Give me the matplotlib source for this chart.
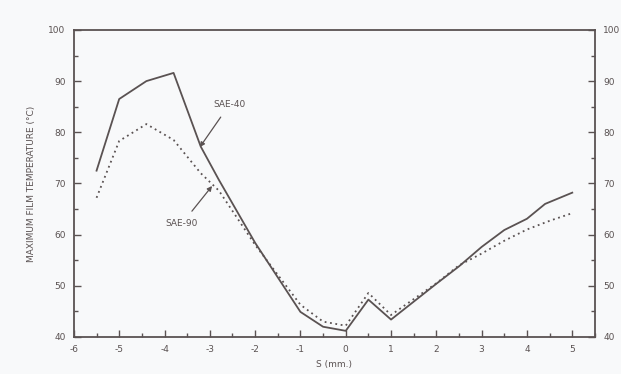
import matplotlib.pyplot as plt
from matplotlib.ticker import MultipleLocator

plt.rcParams['axes.unicode_minus'] = False

# maximum film temperature along the bearing, two oil grades
s_sae40 = [-5.5, -5.0, -4.4, -3.8, -3.2, -2.8, -2.0, -1.0, -0.5, 0.0, 0.5, 1.0, 2.0, 2.5, 3.0, 3.5, 4.0, 4.4, 5.0]
t_sae40 = [72.5, 86.5, 90.0, 91.6, 77.2, 70.7, 58.4, 44.9, 42.0, 41.2, 47.3, 43.4, 50.4, 53.8, 57.6, 60.9, 63.1, 66.0, 68.2]

s_sae90 = [-5.5, -5.0, -4.4, -3.8, -3.2, -2.8, -2.0, -1.0, -0.5, 0.0, 0.5, 1.0, 2.0, 2.5, 3.0, 3.5, 4.0, 4.5, 5.0]
t_sae90 = [67.2, 78.3, 81.6, 78.5, 72.0, 68.6, 58.0, 46.3, 43.0, 42.2, 48.6, 44.3, 50.5, 54.0, 56.3, 58.8, 61.0, 62.7, 64.2]

ink = '#5a5252'
fig = plt.figure(figsize=(6.21, 3.74), dpi=100, facecolor='#f8f9fa')
ax = fig.add_axes([0.119, 0.099, 0.839, 0.821], facecolor='#f8f9fa')

ax.plot(s_sae40, t_sae40, color=ink, lw=1.3, ls='-')
ax.plot(s_sae90, t_sae90, color=ink, lw=1.3, ls=(0, (1, 2)))

ax.annotate('SAE-40', xy=(-3.22, 77.1), xytext=(-2.56, 85.5), ha='center', va='center',
            fontsize=6.5, color=ink,
            arrowprops=dict(arrowstyle='-|>', color=ink, lw=0.9, mutation_scale=7, shrinkA=5, shrinkB=0))
ax.annotate('SAE-90', xy=(-2.95, 69.5), xytext=(-3.62, 62.1), ha='center', va='center',
            fontsize=6.5, color=ink,
            arrowprops=dict(arrowstyle='-|>', color=ink, lw=0.9, mutation_scale=7, shrinkA=5, shrinkB=0))

ax.set_xlim(-6, 5.5)
ax.set_ylim(40, 100)
ax.xaxis.set_major_locator(MultipleLocator(1))
ax.xaxis.set_minor_locator(MultipleLocator(0.5))
ax.yaxis.set_major_locator(MultipleLocator(10))
ax.yaxis.set_minor_locator(MultipleLocator(5))
ax.tick_params(which='both', direction='in', colors=ink, labelsize=6.5, width=1.0,
               left=True, right=True, labelleft=True, labelright=True, top=False)
ax.tick_params(which='major', length=5, pad=6)
ax.tick_params(which='minor', length=3)

for side in ['left', 'right', 'bottom', 'top']:
    ax.spines[side].set_color(ink)
    ax.spines[side].set_linewidth(1.3)

ax.set_xlabel('S (mm.)', fontsize=6.5, color=ink, labelpad=4)
ax.set_ylabel('MAXIMUM FILM TEMPERATURE (\u00b0C)', fontsize=6.5, color=ink, labelpad=9)

plt.savefig('out.png', dpi=100, facecolor=fig.get_facecolor())
